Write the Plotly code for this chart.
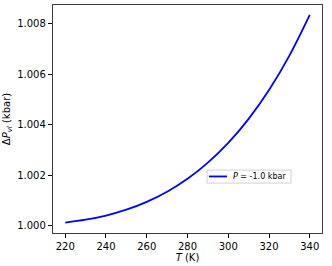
import plotly.graph_objects as go

temperature_K = [220, 230, 240, 250, 260, 270, 280, 290, 300, 310, 320, 330, 340]
delta_p_vl = [1.00013, 1.000245, 1.00041, 1.00064, 1.00095, 1.00135, 1.00186,
              1.00250, 1.00328, 1.00423, 1.00537, 1.00673, 1.00834]
series_name = "<i>P</i> = -1.0 kbar"
y_ticks = [1.000, 1.002, 1.004, 1.006, 1.008]
x_ticks = [220, 240, 260, 280, 300, 320, 340]

fig = go.Figure()
fig.add_trace(go.Scatter(x=temperature_K, y=delta_p_vl, mode="lines",
                         line=dict(color="#0000ff", width=1.8, shape="spline"),
                         name=series_name, showlegend=False))

font = dict(family="DejaVu Sans", size=10, color="black")
axis_common = dict(showline=True, linecolor="#3c3c3c", linewidth=1.3, mirror=True,
                   ticks="outside", ticklen=4, tickwidth=1.2, tickcolor="black",
                   showgrid=False, zeroline=False, tickfont=font, automargin=False)

# legend drawn as a framed box with a sample line and label
fig.add_shape(type="rect", xref="paper", yref="paper", x0=0.5725, x1=0.885, y0=0.219, y1=0.276,
              fillcolor="white", line=dict(color="#d0d0d0", width=1), layer="above")
fig.add_shape(type="line", xref="paper", yref="paper", x0=0.580, x1=0.647, y0=0.248, y1=0.248,
              line=dict(color="#0000ff", width=1.8), layer="above")
fig.add_annotation(xref="paper", yref="paper", x=0.662, y=0.248, xanchor="left", yanchor="middle",
                   text=series_name, showarrow=False,
                   font=dict(family="DejaVu Sans", size=8, color="black"))

fig.update_layout(
    width=332, height=266,
    margin=dict(l=53, r=10, t=5, b=33),
    paper_bgcolor="white", plot_bgcolor="white",
    font=font,
    showlegend=False,
    xaxis=dict(range=[214, 346], tickvals=x_ticks,
               title=dict(text="<i>T</i> (K)", font=font, standoff=0), **axis_common),
    yaxis=dict(range=[0.99972, 1.00873], tickvals=y_ticks, tickformat=".3f",
               title=dict(text="Δ<i>P</i><sub><i>vl</i></sub> (kbar)", font=font, standoff=4),
               **axis_common),
)

fig.write_html("out.html", config={"displayModeBar": False},
               post_script="document.body.style.margin='0';document.body.style.overflow='hidden';")
